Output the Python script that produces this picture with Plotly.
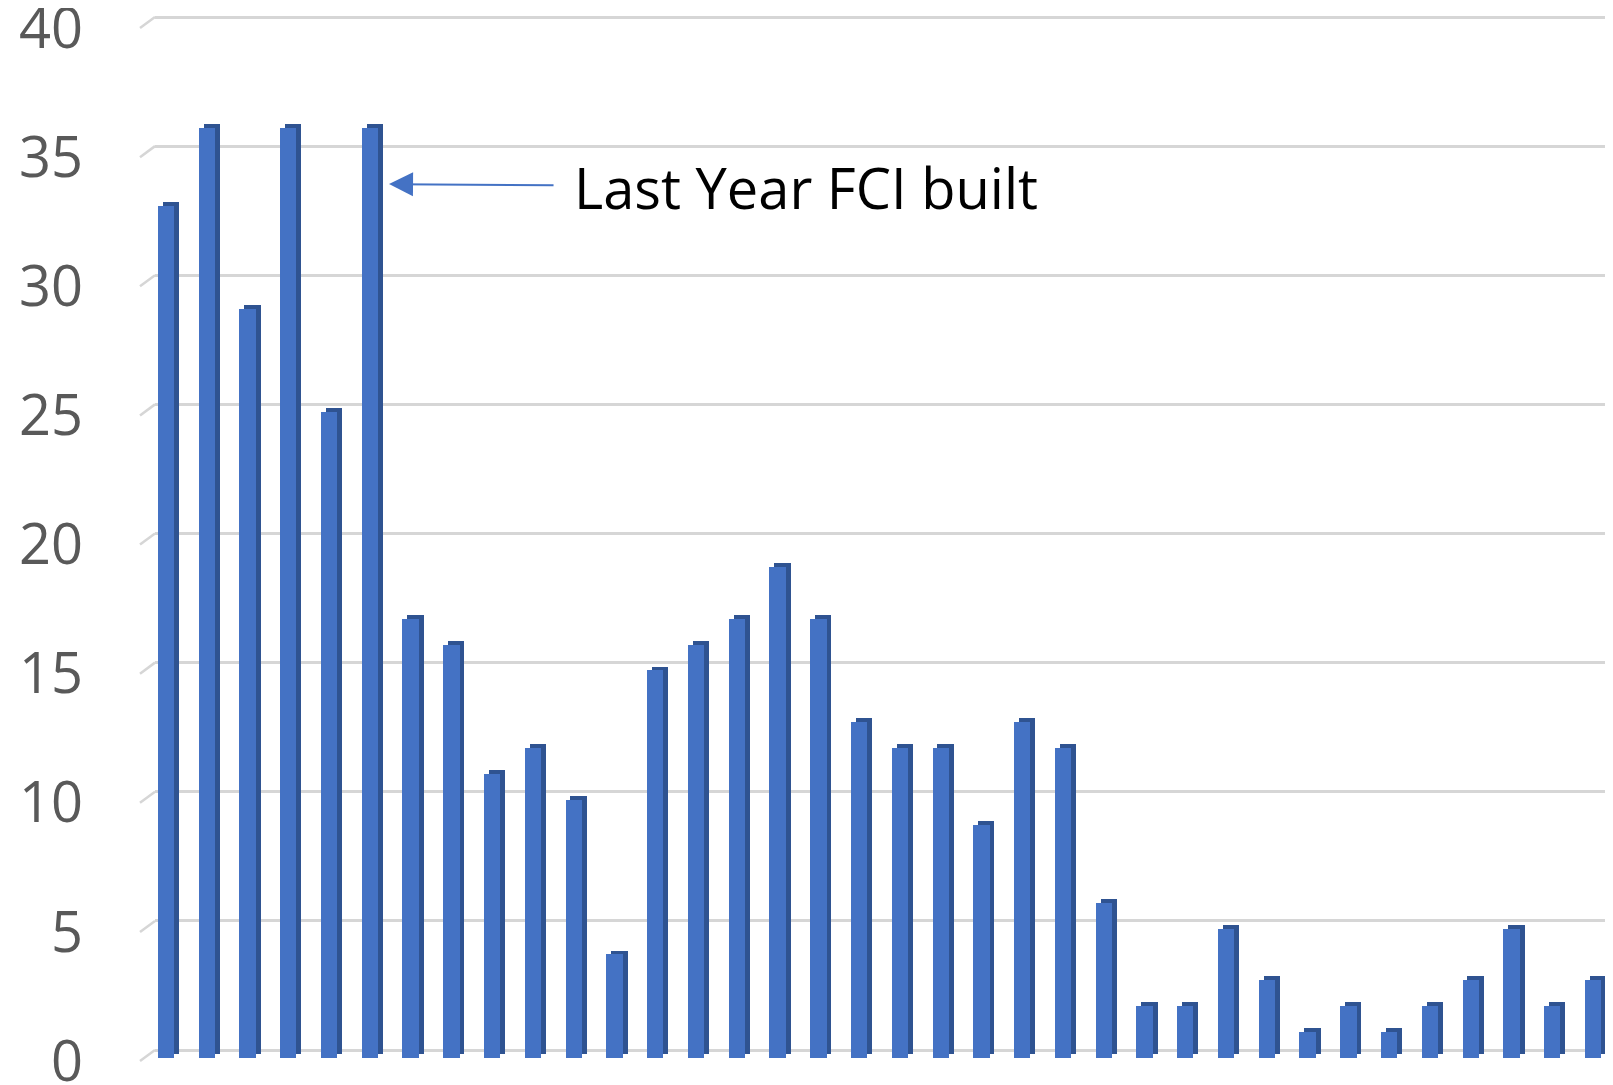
import plotly.graph_objects as go

# ---- data ----
categories = list(range(36))
values = [33, 36, 29, 36, 25, 36, 17, 16, 11, 12, 10, 4, 15, 16, 17, 19, 17, 13,
          12, 12, 9, 13, 12, 6, 2, 2, 5, 3, 1, 2, 1, 2, 3, 5, 2, 3]
tick_vals = [0, 5, 10, 15, 20, 25, 30, 35, 40]
tick_text = ["0", "5", "10", "15", "20", "25", "30", "35", "40"]
annotation_index = 5
annotation_text = "Last Year FCI built"

# ---- layout constants (page body has an 8px margin) ----
W, H = 1605, 1077
ML = 147
YMAX = 40.3485
YMIN = -1.355
XMIN, XMAX = -0.27, 35.49
LABEL_DROP = 0.43   # tick labels sit at the front edge of the 3D floor
FRONT = "#4472C4"
SIDE = "#2F5391"
bar_w = 0.40
depth_x = 0.12      # side-face width in x units (~5 px)
depth_y = 0.15      # top-face height in y units (~4 px)
front_base = -0.30

fig = go.Figure()

# back (shaded) block -> visible as side and top faces
fig.add_trace(go.Bar(
    x=categories, y=values, base=front_base + depth_y,
    width=bar_w, offset=-bar_w / 2 + depth_x,
    marker=dict(color=SIDE, line=dict(width=0)),
    hoverinfo="skip", showlegend=False))

# front face
fig.add_trace(go.Bar(
    x=categories, y=values, base=front_base,
    width=bar_w, offset=-bar_w / 2,
    marker=dict(color=FRONT, line=dict(width=0)),
    showlegend=False))

# invisible helper trace so the label axis is drawn
fig.add_trace(go.Scatter(
    x=categories[:1], y=values[:1], yaxis="y2", mode="markers",
    marker=dict(opacity=0), hoverinfo="skip", showlegend=False))

# slanted floor edges of the gridlines (3D look)
def ypaper(v):
    return (v - YMIN) / (YMAX - YMIN)

plot_w = W - ML
for v in tick_vals:
    fig.add_shape(type="line", xref="paper", yref="paper",
                  x0=-15 / plot_w, x1=0, y0=ypaper(v - LABEL_DROP), y1=ypaper(v),
                  line=dict(color="#D6D6D6", width=2.5), layer="below")

fig.add_annotation(
    x=categories[annotation_index] + 0.47, y=values[annotation_index] - 2.47,
    xref="x", yref="y",
    text=annotation_text, showarrow=True,
    ax=417, ay=3, axref="pixel", ayref="pixel",
    arrowhead=2, arrowsize=2.4, arrowwidth=2, arrowcolor=FRONT,
    borderpad=20, standoff=0,
    font=dict(family="Open Sans", size=56, color="#000000"),
)

fig.update_layout(
    width=W, height=H,
    margin=dict(l=ML, r=0, t=0, b=0, pad=0, autoexpand=False),
    paper_bgcolor="white", plot_bgcolor="white",
    barmode="overlay", bargap=0,
    xaxis=dict(range=[XMIN, XMAX], showgrid=False, zeroline=False,
               showticklabels=False, showline=False, ticks="",
               automargin=False),
    yaxis=dict(range=[YMIN, YMAX], tickvals=tick_vals,
               showgrid=True, gridcolor="#D6D6D6", gridwidth=2.5,
               zeroline=False, showline=False, ticks="", automargin=False,
               showticklabels=False),
    yaxis2=dict(range=[YMIN + LABEL_DROP, YMAX + LABEL_DROP], overlaying="y",
                side="left", tickvals=tick_vals, ticktext=tick_text,
                showgrid=False, zeroline=False, showline=False, ticks="",
                automargin=False, ticklabelstandoff=71,
                ticklabeloverflow="allow",
                tickfont=dict(family="Open Sans", size=56, color="#595959")),
)

fig.write_html("out.html")
